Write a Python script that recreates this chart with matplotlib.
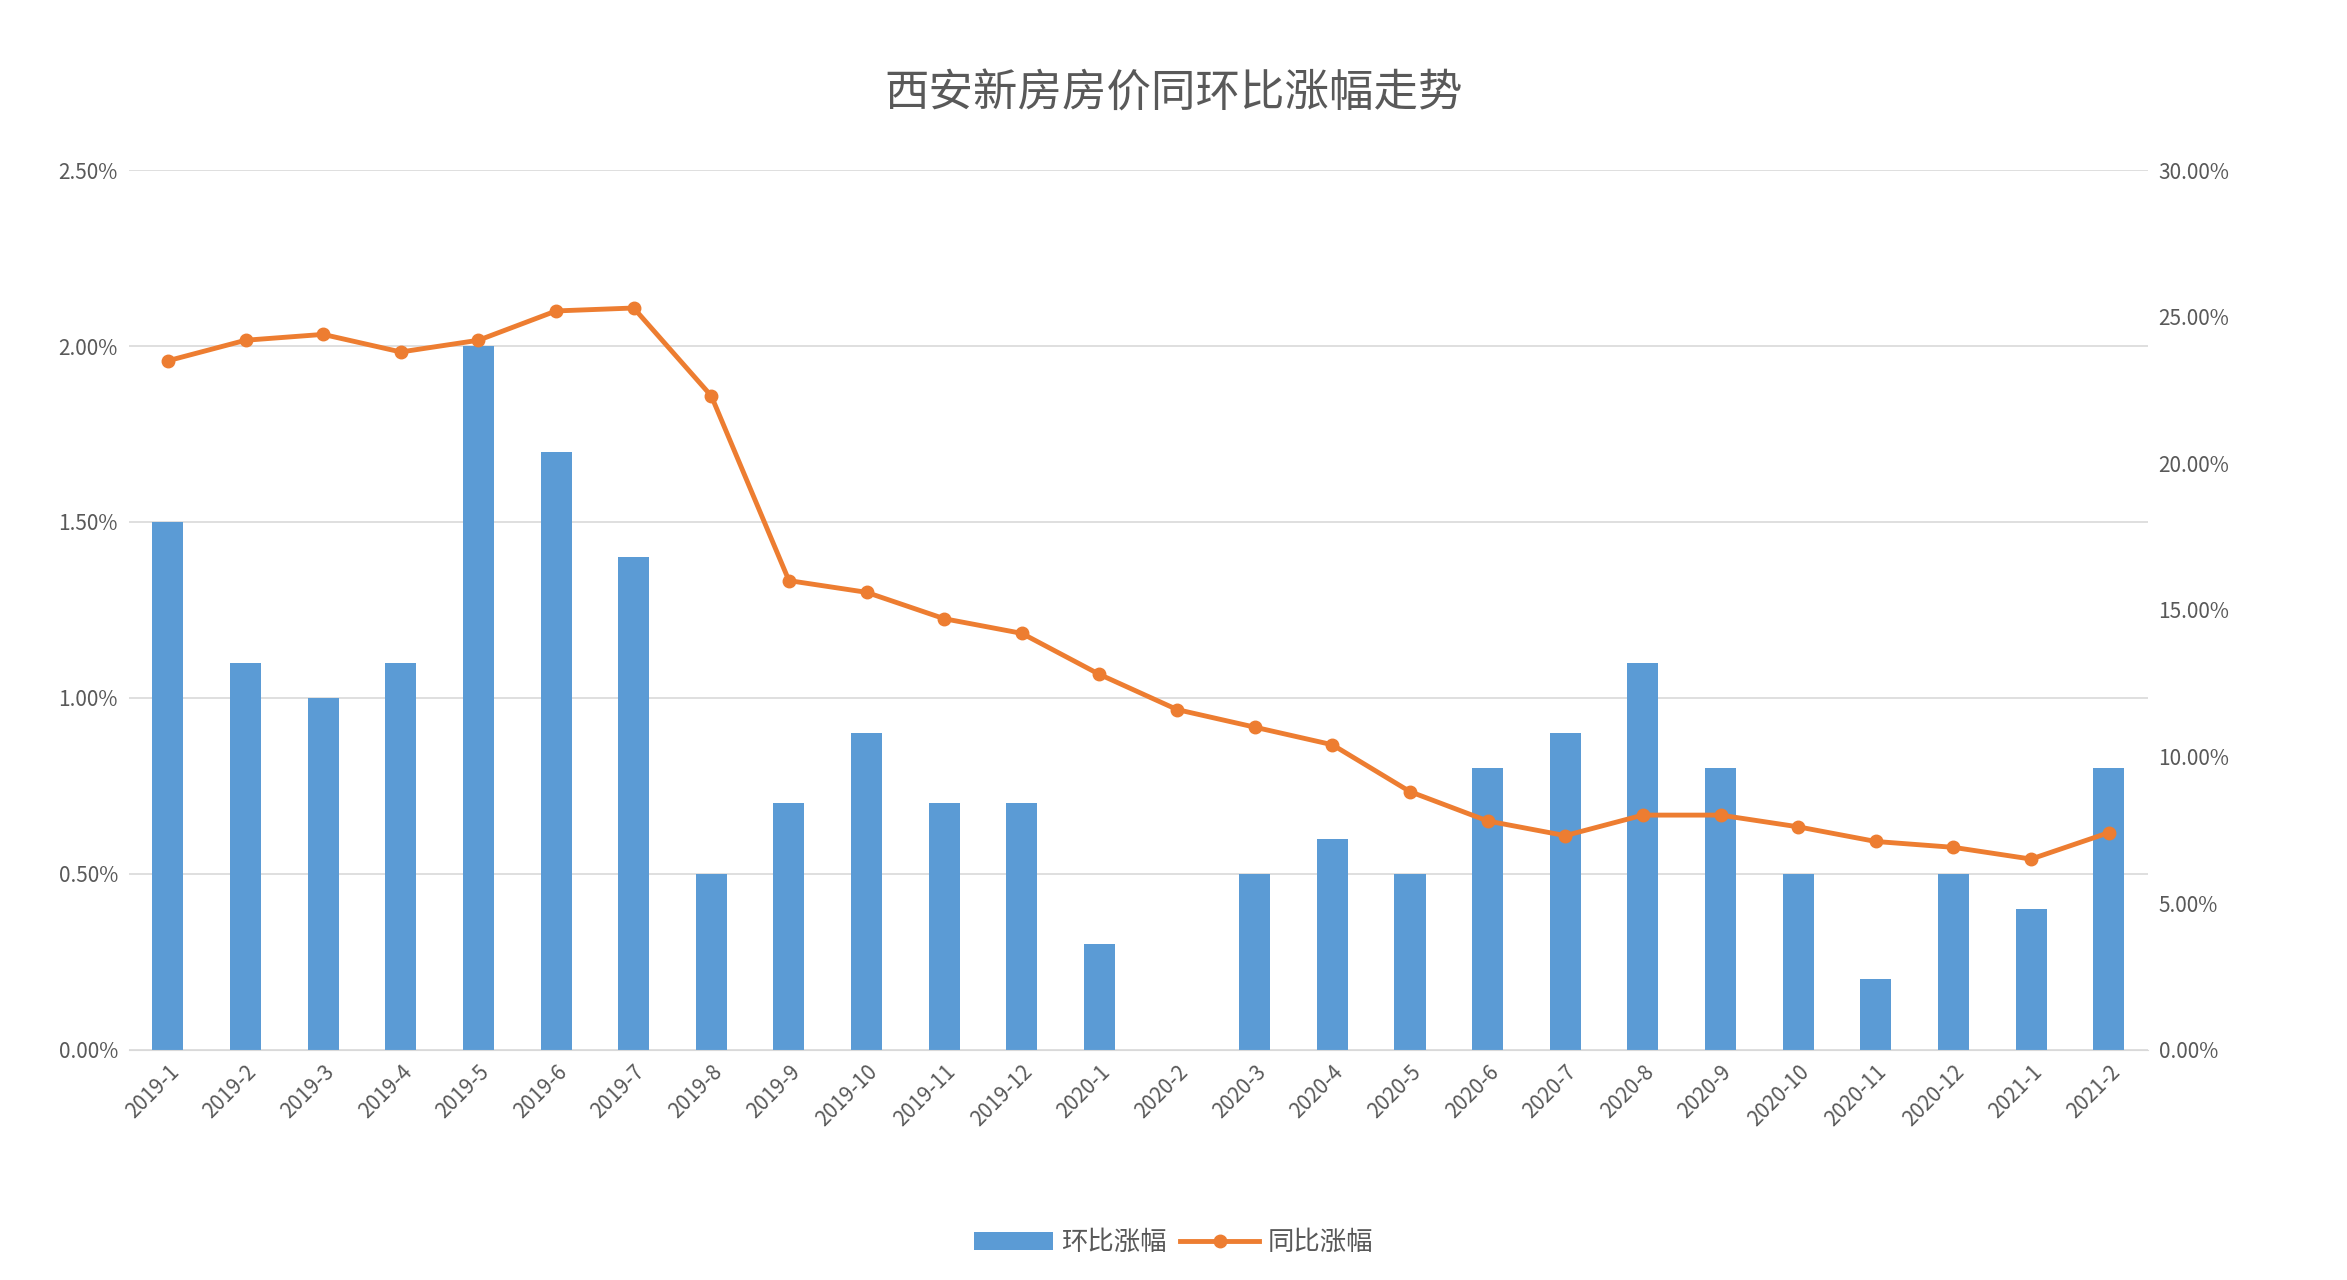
import matplotlib
matplotlib.use("Agg")
import matplotlib.pyplot as plt
from matplotlib.ticker import FuncFormatter
import numpy as np

plt.rcParams['font.family'] = ['Noto Sans CJK SC', 'DejaVu Sans']

months = ["2019-1","2019-2","2019-3","2019-4","2019-5","2019-6","2019-7","2019-8","2019-9","2019-10","2019-11","2019-12",
          "2020-1","2020-2","2020-3","2020-4","2020-5","2020-6","2020-7","2020-8","2020-9","2020-10","2020-11","2020-12",
          "2021-1","2021-2"]
mom = [1.5,1.1,1.0,1.1,2.0,1.7,1.4,0.5,0.7,0.9,0.7,0.7,0.3,0.0,0.5,0.6,0.5,0.8,0.9,1.1,0.8,0.5,0.2,0.5,0.4,0.8]
yoy = [23.5,24.2,24.4,23.8,24.2,25.2,25.3,22.3,16.0,15.6,14.7,14.2,12.8,11.6,11.0,10.4,8.8,7.8,7.3,8.0,8.0,7.6,7.1,6.9,6.5,7.4]

fig = plt.figure(figsize=(23.47, 12.8), dpi=100)
ax = fig.add_axes([0.055, 0.18, 0.86, 0.687])
ax2 = ax.twinx()
x = np.arange(len(months))
ax.bar(x, mom, width=0.4, color='#5b9bd5', label='环比涨幅', zorder=2)
ax2.plot(x, yoy, color='#ed7d31', lw=3.5, marker='o', ms=9, label='同比涨幅', zorder=3)
ax.set_ylim(0, 2.5); ax2.set_ylim(0, 30)
ax.set_yticks(np.arange(0, 2.51, 0.5)); ax2.set_yticks(np.arange(0, 30.1, 5))
ax.yaxis.set_major_formatter(FuncFormatter(lambda v, p: f"{v:.2f}%"))
ax2.yaxis.set_major_formatter(FuncFormatter(lambda v, p: f"{v:.2f}%"))
ax.set_xlim(-0.5, len(months) - 0.5)
ax.set_xticks(x)
ax.set_xticklabels(months, rotation=45, ha='right', rotation_mode='anchor')
ax.grid(axis='y', color='#d9d9d9', lw=1.2, zorder=0)
for a in (ax, ax2):
    for s in a.spines.values():
        s.set_visible(False)
    a.tick_params(length=0, labelsize=15, colors='#595959', pad=8)
ax.spines['bottom'].set_visible(True); ax.spines['bottom'].set_color('#d9d9d9')
fig.suptitle('西安新房房价同环比涨幅走势', y=0.945, fontsize=32, color='#595959')
h1, l1 = ax.get_legend_handles_labels(); h2, l2 = ax2.get_legend_handles_labels()
fig.legend(h1 + h2, l1 + l2, loc='lower center', bbox_to_anchor=(0.5, 0.0), ncol=2, frameon=False,
           fontsize=19, labelcolor='#595959', handlelength=3, columnspacing=0.5, handletextpad=0.3)
fig.savefig('out.png', dpi=100, facecolor='white')
